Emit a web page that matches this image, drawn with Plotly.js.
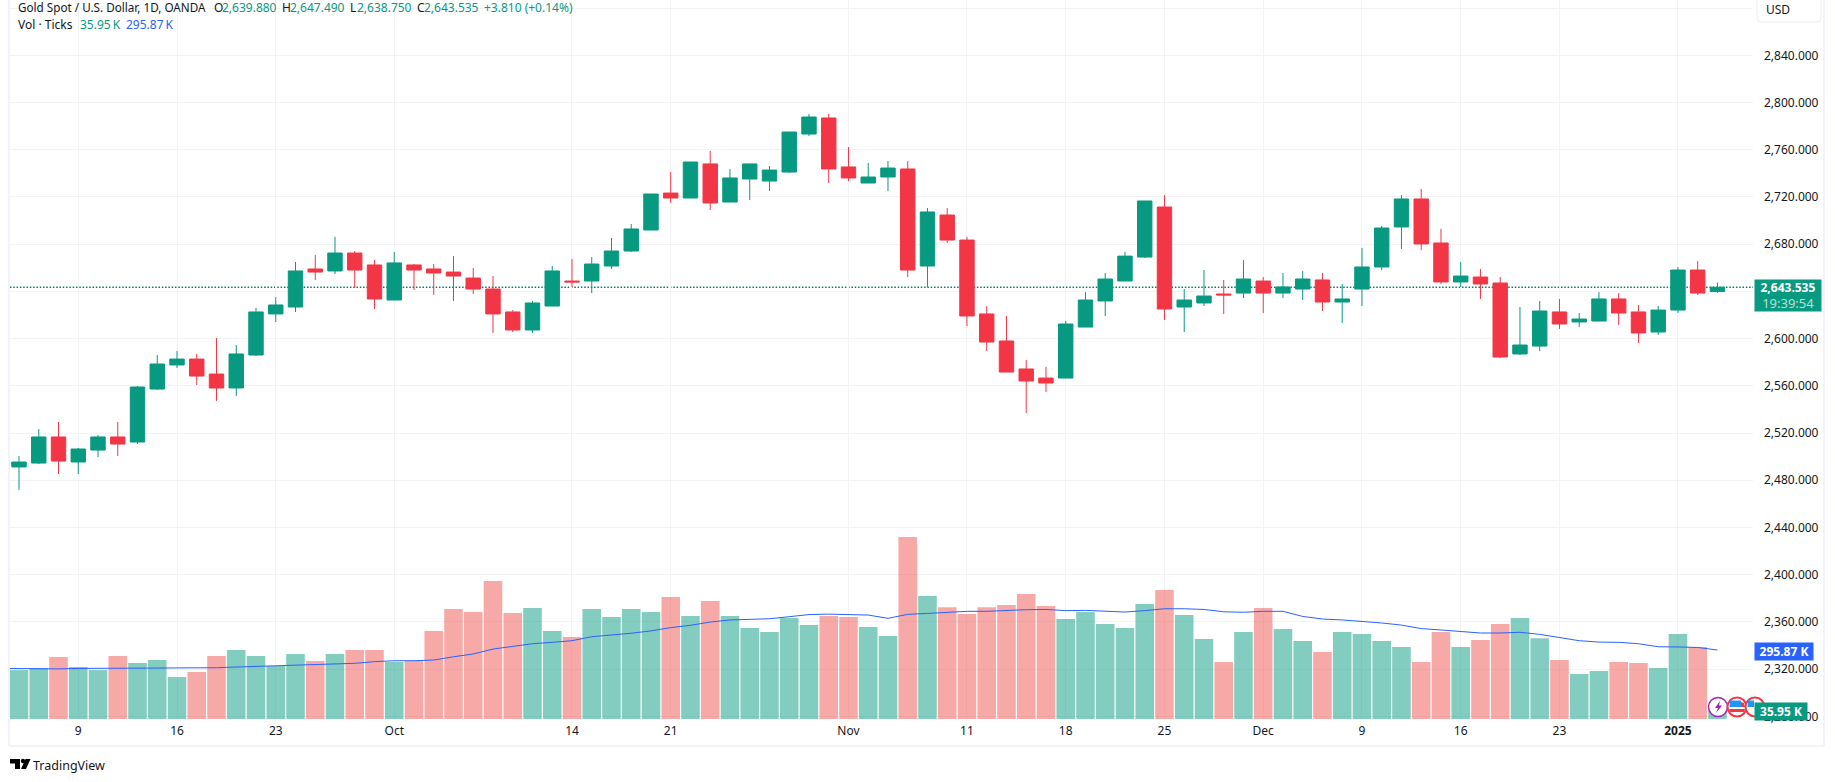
<!DOCTYPE html>
<html>
<head>
<meta charset="utf-8">
<script src="https://cdn.plot.ly/plotly-3.0.1.min.js"></script>
<style>
html,body{margin:0;padding:0;background:#fff;}
#chart{width:1835px;height:782px;}
</style>
</head>
<body>
<div id="chart"></div>
<script>
// gold spot daily candles, volume and volume MA
var dates = ["2024-09-04","2024-09-05","2024-09-06",
"2024-09-09","2024-09-10","2024-09-11","2024-09-12","2024-09-13",
"2024-09-16","2024-09-17","2024-09-18","2024-09-19","2024-09-20",
"2024-09-23","2024-09-24","2024-09-25","2024-09-26","2024-09-27",
"2024-09-30","2024-10-01","2024-10-02","2024-10-03","2024-10-04",
"2024-10-07","2024-10-08","2024-10-09","2024-10-10","2024-10-11",
"2024-10-14","2024-10-15","2024-10-16","2024-10-17","2024-10-18",
"2024-10-21","2024-10-22","2024-10-23","2024-10-24","2024-10-25",
"2024-10-28","2024-10-29","2024-10-30","2024-10-31","2024-11-01",
"2024-11-04","2024-11-05","2024-11-06","2024-11-07","2024-11-08",
"2024-11-11","2024-11-12","2024-11-13","2024-11-14","2024-11-15",
"2024-11-18","2024-11-19","2024-11-20","2024-11-21","2024-11-22",
"2024-11-25","2024-11-26","2024-11-27","2024-11-28","2024-11-29",
"2024-12-02","2024-12-03","2024-12-04","2024-12-05","2024-12-06",
"2024-12-09","2024-12-10","2024-12-11","2024-12-12","2024-12-13",
"2024-12-16","2024-12-17","2024-12-18","2024-12-19","2024-12-20",
"2024-12-23","2024-12-24","2024-12-26","2024-12-27","2024-12-30","2024-12-31",
"2025-01-02","2025-01-03","2025-01-06"];

var opens = [2491.3,2494.6,2516.7,2495.5,2505.6,2516.7,2512.4,2557.3,2577.7,2582.7,
2570.0,2558.2,2586.1,2620.9,2626.8,2659.0,2657.3,2672.5,2662.4,2632.7,
2662.4,2659.0,2656.4,2651.3,2642.0,2622.6,2607.3,2627.6,2648.8,2648.8,
2661.5,2674.2,2692.0,2723.3,2719.1,2748.0,2715.7,2735.2,2733.5,2741.1,
2773.3,2786.9,2745.4,2731.8,2736.9,2743.7,2661.5,2704.7,2683.5,2620.9,
2598.0,2574.3,2566.6,2566.6,2609.8,2631.9,2648.8,2669.1,2711.5,2626.8,
2630.2,2637.8,2638.6,2648.8,2638.6,2642.0,2649.7,2631.0,2642.0,2660.7,
2694.6,2718.3,2681.0,2648.0,2652.2,2647.1,2587.0,2593.7,2622.6,2614.1,
2614.9,2633.6,2622.6,2605.6,2624.2,2658.1,2639.88];

var highs = [2500.6,2523.4,2529.4,2507.3,2518.4,2529.4,2559.9,2586.1,2589.5,2587.0,
2600.5,2594.6,2626.0,2635.2,2664.9,2670.8,2686.1,2674.2,2666.6,2673.4,
2663.2,2663.2,2669.9,2659.8,2653.0,2624.2,2631.9,2661.5,2667.4,2669.1,
2685.2,2697.1,2722.5,2741.1,2749.6,2759.0,2743.7,2748.0,2746.2,2775.0,
2790.3,2790.3,2762.3,2748.8,2750.5,2750.5,2710.7,2710.7,2686.1,2627.6,
2619.2,2581.9,2576.0,2614.9,2639.5,2655.6,2673.4,2716.6,2721.7,2642.0,
2658.1,2649.7,2666.6,2652.2,2655.6,2657.3,2655.6,2646.3,2676.8,2695.4,
2721.7,2726.7,2692.9,2664.9,2659.0,2652.2,2626.8,2631.9,2633.6,2621.7,
2639.5,2638.6,2628.5,2627.6,2660.7,2665.7,2647.49];

var lows = [2471.8,2493.8,2485.3,2485.3,2499.7,2500.6,2510.7,2556.5,2575.1,2560.7,
2547.2,2551.4,2585.3,2614.1,2622.6,2649.7,2654.7,2642.9,2625.1,2632.7,
2641.2,2637.0,2631.9,2637.8,2604.8,2605.6,2604.8,2627.6,2643.7,2638.6,
2659.0,2673.4,2692.0,2714.9,2719.1,2709.0,2715.7,2717.4,2725.0,2740.3,
2771.6,2731.8,2733.5,2731.8,2725.0,2652.2,2643.7,2681.0,2610.7,2589.5,
2571.7,2537.0,2554.8,2566.6,2609.8,2619.2,2648.8,2668.3,2615.8,2605.6,
2627.6,2620.9,2634.4,2621.7,2634.4,2632.7,2623.4,2613.2,2627.6,2658.1,
2675.9,2675.1,2646.3,2643.7,2633.6,2583.6,2586.1,2589.5,2608.2,2609.8,
2614.9,2611.5,2596.3,2603.1,2621.7,2637.0,2638.75];

var closes = [2495.5,2516.7,2496.3,2506.5,2516.7,2510.7,2559.0,2578.5,2582.7,2568.3,
2558.2,2587.0,2622.6,2628.5,2657.3,2656.4,2672.5,2658.1,2633.6,2664.1,
2658.1,2655.6,2653.0,2642.0,2620.9,2607.3,2630.2,2657.3,2648.0,2663.2,
2674.2,2692.9,2722.5,2719.1,2749.6,2714.9,2736.1,2748.0,2742.8,2775.0,
2787.7,2743.7,2736.1,2736.9,2744.5,2658.1,2707.3,2683.5,2619.2,2597.1,
2571.7,2564.1,2562.4,2612.4,2632.7,2650.5,2669.9,2716.6,2625.1,2632.7,
2636.1,2637.0,2650.5,2638.6,2643.7,2650.5,2631.0,2633.6,2660.7,2693.7,
2718.3,2680.2,2648.0,2653.0,2646.3,2584.4,2594.6,2623.4,2612.4,2616.6,
2633.6,2621.7,2604.8,2624.2,2658.1,2638.6,2643.535];

// volume in K ticks
var volumes = [210,219,266,223,210,270,240,253,180,202,
270,296,270,227,279,249,279,296,296,245,
249,378,472,459,592,455,476,378,352,472,
438,472,459,523,442,506,442,390,373,433,
403,442,438,395,356,781,528,480,450,480,
489,536,485,429,459,408,390,493,553,446,
343,245,373,476,386,335,287,373,365,335,
309,245,373,309,339,408,433,347,253,193,
206,245,240,219,365,309,35.95];

// starts one session earlier so the line runs in from the left edge
var maDates = ["2024-09-03"].concat(dates);
var volumeMA = [217,216,213,215,217,217,219,220,220,220,217,
220,223,226,227,230,233,236,239,246,250,
250,253,267,279,300,310,323,329,336,353,
359,368,378,392,402,416,425,428,430,439,
448,450,449,446,432,449,453,458,462,462,
466,469,470,465,466,462,459,465,473,473,
470,460,458,462,462,440,429,425,419,412,
403,388,382,375,369,369,372,363,349,336,
330,329,323,310,309,307,295.87];

var tickDates = ["2024-09-09","2024-09-16","2024-09-23","2024-10-01","2024-10-14","2024-10-21","2024-11-01","2024-11-11","2024-11-18","2024-11-25","2024-12-02","2024-12-09","2024-12-16","2024-12-23","2025-01-02"];
var tickLabels = ["9","16","23","Oct","14","21","Nov","11","18","25","Dec","9","16","23","<b>2025</b>"];
var priceTicks = [2280,2320,2360,2400,2440,2480,2520,2560,2600,2640,2680,2720,2760,2800,2840,2880];
// 2,640 sits behind the price tag and 2,880 behind the USD button
var priceLabels = ["2,280.000","2,320.000","2,360.000","2,400.000","2,440.000","2,480.000","2,520.000","2,560.000","2,600.000","","2,680.000","2,720.000","2,760.000","2,800.000","2,840.000",""];

var green = "#089981", red = "#f23645", blue = "#2962ff", textCol = "#131722";
var fontName = "'Noto Sans', sans-serif";

// pixel position on the page -> paper fraction, for the chrome round the chart
function PX(x){ return (x-10)/1743; }
function PY(y){ return 1-y/719; }
function poly(pts){
    var s = "";
    for(var i=0;i<pts.length;i++){
        s += (i==0?"M":"L")+PX(pts[i][0])+","+PY(pts[i][1]);
    }
    return s+"Z";
}
function pathShape(pts,fill){
    return {type:"path",xref:"paper",yref:"paper",path:poly(pts),fillcolor:fill,line:{width:0}};
}
function circle(cx,cy,r,fill,col,w){
    return {type:"circle",xref:"paper",yref:"paper",x0:PX(cx-r),x1:PX(cx+r),y0:PY(cy+r),y1:PY(cy-r),fillcolor:fill,line:{color:col,width:w}};
}
function lineShape(x0,y0,x1,y1,col,w){
    return {type:"line",xref:"paper",yref:"paper",x0:PX(x0),x1:PX(x1),y0:PY(y0),y1:PY(y1),line:{color:col,width:w}};
}
function tag(x,y,w,h,bg,txt,size){
    return {xref:"paper",yref:"paper",x:PX(x),y:PY(y),xanchor:"left",yanchor:"top",width:w,height:h,showarrow:false,align:"center",valign:"middle",bgcolor:bg,borderpad:0,text:txt,font:{family:fontName,size:size,color:"#fff"}};
}
function label(x,y,txt,size,col){
    return {xref:"paper",yref:"paper",x:PX(x-2),y:PY(y),xanchor:"left",yanchor:"middle",showarrow:false,text:txt,font:{family:fontName,size:size,color:col||textCol}};
}

var barColors = [];
for(var i=0;i<dates.length;i++){
    barColors.push(closes[i]>=opens[i] ? "rgba(8,153,129,0.5)" : "rgba(239,83,80,0.5)");
}

var volTrace = {type:"bar",x:dates,y:volumes,yaxis:"y2",marker:{color:barColors,line:{width:0}},hoverinfo:"skip"};
var maTrace = {type:"scatter",mode:"lines",x:maDates,y:volumeMA,yaxis:"y2",line:{color:blue,width:1},hoverinfo:"skip"};
var candles = {type:"candlestick",x:dates,open:opens,high:highs,low:lows,close:closes,
    increasing:{line:{color:green,width:1},fillcolor:green},
    decreasing:{line:{color:red,width:1},fillcolor:red},
    whiskerwidth:0,hoverinfo:"skip"};

var lastClose = closes[closes.length-1];
var border = "#f0f3fa";

var shapes = [
    {type:"line",layer:"below",xref:"paper",yref:"y",x0:0,x1:1,y0:lastClose,y1:lastClose,line:{color:"#067a67",width:1.4,dash:"1.5px,1.8px"}},
    lineShape(9,0,9,746,border,2),
    lineShape(9,746,1824,746,border,2),
    lineShape(1824,0,1824,746,border,2),
    // USD button
    {type:"path",xref:"paper",yref:"paper",path:"M"+PX(1757)+","+PY(-2)+"L"+PX(1757)+","+PY(18)+"Q"+PX(1757)+","+PY(22)+" "+PX(1761)+","+PY(22)+"L"+PX(1817)+","+PY(22)+"Q"+PX(1821)+","+PY(22)+" "+PX(1821)+","+PY(18)+"L"+PX(1821)+","+PY(-2)+"Z",fillcolor:"#fff",line:{color:"#e9ecf3",width:1}},
    // event icons
    circle(1718,707,9.5,"#fff","#9c27b0",1.5),
    pathShape([[1720,701],[1715,708],[1718,708],[1716,713],[1722,705.5],[1719,705.5]],"#9c27b0"),
    circle(1737,707,9.5,"#fff",red,2),
    pathShape([[1730,700.5],[1741,700.5],[1741,707],[1729.5,707]],"#2196f3"),
    pathShape([[1741,702],[1744,703],[1745,707],[1741,707]],red),
    pathShape([[1729,709],[1745,709],[1744,712],[1730,712]],red),
    circle(1755,707,9.5,"#fff",red,2),
    pathShape([[1748,700.5],[1754,700.5],[1754,707],[1747.5,707]],"#2196f3"),
    // logo
    pathShape([[10,759],[20,759],[20,769],[15,769],[15,763.5],[10,763.5]],"#000"),
    circle(23,761,2.2,"#000","#000",0),
    pathShape([[25.5,759],[30.5,759],[26,769],[21,769]],"#000")
];

var annotations = [
    label(18,7,"Gold Spot / U.S. Dollar, 1D, OANDA",11.7),
    label(214,7,"O",12), label(222,7,"2,639.880",12,green),
    label(282,7,"H",12), label(290,7,"2,647.490",12,green),
    label(350,7,"L",12), label(357,7,"2,638.750",12,green),
    label(417,7,"C",12), label(424,7,"2,643.535",12,green),
    label(484,7,"+3.810 (+0.14%)",12,green),
    label(18,24,"Vol · Ticks",12),
    label(80,24,"35.95\u2009K",12,green),
    label(126,24,"295.87\u2009K",12,blue),
    label(1766,9,"USD",12),
    tag(1754,279,66,31,green,"<b>2,643.535</b><br><span style=\"color:#b5e0d8;font-size:13px\">19:39:54</span>",12),
    tag(1754,642,58,17,blue,"<b>295.87 K</b>",12),
    tag(1754,702,52,17,green,"<b>35.95 K</b>",12),
    label(33,765,"TradingView",12.5)
];

var layout = {
    width:1835,height:782,
    margin:{l:10,r:82,t:0,b:63,pad:0},
    paper_bgcolor:"#fff",plot_bgcolor:"#fff",
    showlegend:false,
    bargap:0.06,
    boxgap:0.27,boxgroupgap:0,
    font:{family:fontName,size:12,color:textCol},
    xaxis:{type:"category",categoryorder:"array",categoryarray:maDates,range:[0.544,88.8],
        tickmode:"array",tickvals:tickDates,ticktext:tickLabels,
        showgrid:true,gridcolor:"#f3f3f5",gridwidth:1,zeroline:false,showline:false,ticks:"",
        ticklabelstandoff:3,tickfont:{family:fontName,size:12,color:textCol},
        rangeslider:{visible:false},fixedrange:true},
    yaxis:{side:"right",range:[2277.8,2886.84],tickmode:"array",tickvals:priceTicks,ticktext:priceLabels,
        showgrid:true,gridcolor:"#f3f3f5",gridwidth:1,zeroline:false,showline:false,ticks:"",
        ticklabelstandoff:10,tickfont:{family:fontName,size:12,color:textCol},fixedrange:true},
    yaxis2:{overlaying:"y",side:"left",range:[0,3085],visible:false,showgrid:false,zeroline:false,fixedrange:true},
    shapes:shapes,
    annotations:annotations
};

Plotly.newPlot("chart",[volTrace,maTrace,candles],layout,{displayModeBar:false,staticPlot:true});
</script>
</body>
</html>
